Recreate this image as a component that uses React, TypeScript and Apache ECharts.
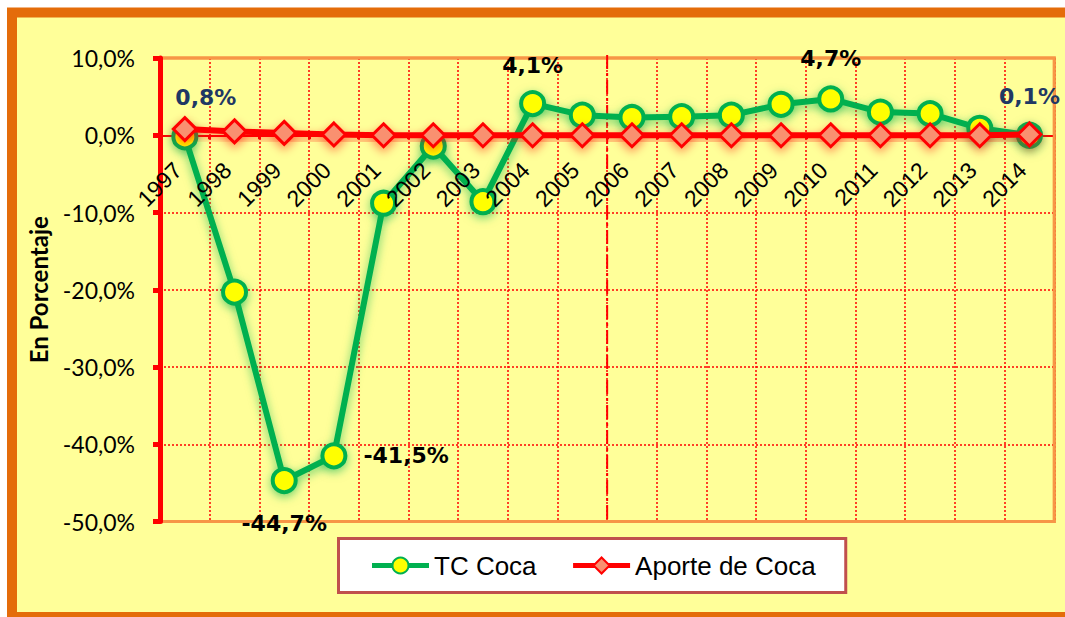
import React, { useEffect, useRef } from "react";
import * as echarts from "echarts";

const years = ["1997", "1998", "1999", "2000", "2001", "2002", "2003", "2004", "2005", "2006", "2007", "2008", "2009", "2010", "2011", "2012", "2013", "2014"];
const tcCoca = [-0.2, -20.3, -44.7, -41.5, -8.8, -1.4, -8.6, 4.1, 2.6, 2.3, 2.4, 2.6, 4.0, 4.7, 3.0, 2.8, 0.9, 0.0];
const aporteCoca = [0.8, 0.5, 0.3, 0.1, 0.0, 0.0, 0.0, 0.0, 0.0, 0.0, 0.0, 0.0, 0.0, 0.0, 0.0, 0.0, 0.0, 0.1];
const yMin = -50;
const yMax = 10;
const yInterval = 10;
const splitYears = ["2005", "2006"];

const fmt = (v: number) => v.toFixed(1).replace(".", ",") + "%";

export default function App() {
  const ref = useRef<HTMLDivElement>(null);
  useEffect(() => {
    if (!ref.current) return;
    const chart = echarts.init(ref.current, undefined, { renderer: "svg" });

    const tcLabels: Record<number, any> = {
      2: { show: true, position: "bottom", distance: 18 },
      3: { show: true, position: "right", distance: 16 },
      7: { show: true, position: "top", distance: 14 },
      13: { show: true, position: "top", distance: 16 },
    };
    const apLabels: Record<number, any> = {
      0: { show: true, position: "top", distance: 8, offset: [21, 0] },
      17: { show: true, position: "top", distance: 14 },
    };
    const labelFont = {
      fontFamily: "DejaVu Sans",
      fontWeight: "bold" as const,
      fontSize: 22,
      formatter: (p: any) => fmt(p.value),
    };
    const frame = {
      type: "rect",
      z: -100,
      silent: true,
      shape: { x: 12, y: 12.5, width: 1070, height: 604.5 },
      style: { fill: "#FFFF99", stroke: "#E46C0A", lineWidth: 10 },
    };

    chart.setOption({
      animation: false,
      backgroundColor: "#ffffff",
      graphic: [frame],
      grid: {
        left: 160,
        top: 58,
        right: 10.7,
        bottom: 95.5,
        show: true,
        backgroundColor: "#FFFF99",
        borderColor: "#F79646",
        borderWidth: 3,
      },
      legend: {
        left: 338.5,
        top: 538.5,
        padding: [14, 30, 14, 31],
        backgroundColor: "#ffffff",
        borderColor: "#C0504D",
        borderWidth: 3,
        itemWidth: 57,
        itemHeight: 20,
        itemGap: 34,
        lineStyle: { width: 5 },
        textStyle: { fontFamily: "Liberation Sans", fontSize: 26, color: "#000" },
        data: ["TC Coca", "Aporte de Coca"],
      },
      xAxis: [
        {
          type: "category",
          data: years,
          position: "bottom",
          boundaryGap: true,
          z: 0,
          axisLine: { show: true, onZero: false, lineStyle: { color: "#FF0000", width: 2 } },
          axisTick: { show: true, interval: 0, length: 4, lineStyle: { color: "#FF0000", width: 3 } },
          axisLabel: { show: false },
          splitLine: { show: true, interval: 0, lineStyle: { color: "#FF0000", width: 1.5, type: [2, 2] } },
        },
        {
          type: "category",
          data: years,
          position: "bottom",
          boundaryGap: true,
          z: 10,
          axisLine: { show: false, onZero: false },
          axisTick: { show: false },
          splitLine: { show: false },
          axisLabel: {
            interval: 0,
            rotate: 45,
            margin: 24,
            padding: [0, 10, 0, 0],
            fontFamily: "Liberation Sans",
            fontSize: 23,
            color: "#000",
          },
        },
      ],
      yAxis: {
        type: "value",
        min: yMin,
        max: yMax,
        interval: yInterval,
        name: "En Porcentaje",
        nameLocation: "middle",
        nameGap: 110,
        nameRotate: 90,
        nameTextStyle: { fontFamily: "Lato", fontWeight: "bold", fontSize: 24, color: "#000" },
        axisLine: { show: true, lineStyle: { color: "#FF0000", width: 5 } },
        axisTick: { show: true, length: 7, lineStyle: { color: "#FF0000", width: 5 } },
        axisLabel: {
          formatter: (v: number) => fmt(v),
          fontFamily: "Lato",
          fontSize: 23,
          color: "#000",
          margin: 25,
        },
        splitLine: { show: true, lineStyle: { color: "#FF0000", width: 1.5, type: [2, 2] } },
      },
      series: [
        {
          name: "TC Coca",
          type: "line",
          z: 3,
          xAxisIndex: 0,
          data: tcCoca.map((v, i) => (tcLabels[i] ? { value: v, label: tcLabels[i] } : v)),
          symbol: "circle",
          symbolSize: 23,
          lineStyle: {
            color: "#00B050",
            width: 6,
            shadowColor: "rgba(0,176,80,0.6)",
            shadowBlur: 10,
            shadowOffsetY: 3,
          },
          itemStyle: {
            color: "#FFFF00",
            borderColor: "#00B050",
            borderWidth: 4,
            shadowColor: "rgba(0,176,80,0.55)",
            shadowBlur: 10,
            shadowOffsetY: 3,
          },
          label: { show: false, color: "#000", ...labelFont },
        },
        {
          name: "Aporte de Coca",
          type: "line",
          z: 4,
          xAxisIndex: 0,
          data: aporteCoca.map((v, i) => (apLabels[i] ? { value: v, label: apLabels[i] } : v)),
          symbol: "diamond",
          symbolSize: 23,
          lineStyle: {
            color: "#FF0000",
            width: 6,
            shadowColor: "rgba(255,0,0,0.5)",
            shadowBlur: 10,
            shadowOffsetY: 4,
          },
          itemStyle: {
            color: "#F99070",
            borderColor: "#FF0000",
            borderWidth: 3,
            shadowColor: "rgba(255,0,0,0.45)",
            shadowBlur: 10,
            shadowOffsetY: 4,
          },
          label: { show: false, color: "#1F3864", ...labelFont },
        },
      ],
    });

    const a = chart.convertToPixel({ xAxisIndex: 0 }, splitYears[0]) as number;
    const b = chart.convertToPixel({ xAxisIndex: 0 }, splitYears[1]) as number;
    const first = chart.convertToPixel({ xAxisIndex: 0 }, years[0]) as number;
    const last = chart.convertToPixel({ xAxisIndex: 0 }, years[years.length - 1]) as number;
    const half = (b - a) / 2;
    const xl = first - half;
    const xr = last + half;
    const top = chart.convertToPixel({ yAxisIndex: 0 }, yMax) as number;
    const bot = chart.convertToPixel({ yAxisIndex: 0 }, yMin) as number;
    const zero = chart.convertToPixel({ yAxisIndex: 0 }, 0) as number;
    const xm = (a + b) / 2;
    chart.setOption({
      xAxis: [{ offset: zero - bot }, { offset: zero - bot }],
      graphic: [
        frame,
        {
          type: "polyline",
          z: 1,
          silent: true,
          shape: { points: [[xl + 3, top], [xr, top], [xr, bot], [xl + 3, bot]] },
          style: { stroke: "#F79646", lineWidth: 3, fill: null },
        },
        {
          type: "line",
          z: 1,
          silent: true,
          shape: { x1: xm, y1: top - 3, x2: xm, y2: bot },
          style: { stroke: "#FF0000", lineWidth: 2, lineDash: [14, 4, 3, 4] },
        },
      ],
    });

    return () => chart.dispose();
  }, []);
  return (
    <div
      ref={ref}
      style={{ position: "absolute", left: 0, top: 0, width: 1065, height: 617 }}
    />
  );
}
